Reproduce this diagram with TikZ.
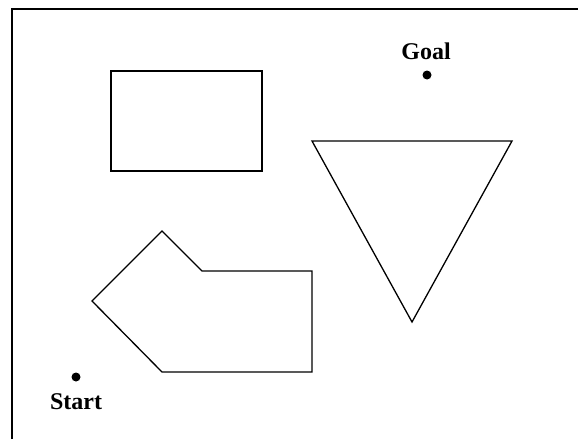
\documentclass[tikz,border=0pt]{standalone}
\usepackage{fontspec}
\setmainfont{Liberation Serif}
\begin{document}
\begin{tikzpicture}[x=1pt,y=-1pt,
  obstacle/.style={draw=black,line width=1.3pt,line join=miter},
  framebar/.style={draw=black,line width=2.4pt},
  point/.style={circle,fill=black,inner sep=0pt,minimum size=9pt},
  lbl/.style={font=\bfseries\fontsize{24}{26}\selectfont,inner sep=0pt}]
\useasboundingbox (0,0) rectangle (578,439);
% frame
\coordinate (fbl) at (12,439);
\coordinate (ftl) at (12,9);
\coordinate (ftr) at (578,9);
\draw[framebar] (fbl) -- (ftl) -- (ftr);
% rectangle obstacle
\draw[obstacle] (111,71) rectangle (262,171);
% triangle obstacle
\coordinate (t1) at (312,141);
\coordinate (t2) at (512,141);
\coordinate (t3) at (412,322);
\draw[obstacle] (t1) -- (t2) -- (t3) -- cycle;
% polygon obstacle
\coordinate (p1) at (162,231);
\coordinate (p2) at (202,271);
\coordinate (p3) at (312,271);
\coordinate (p4) at (312,372);
\coordinate (p5) at (162,372);
\coordinate (p6) at (92,301);
\draw[obstacle] (p1) -- (p2) -- (p3) -- (p4) -- (p5) -- (p6) -- cycle;
% goal and start
\node[point] (goal) at (427,75) {};
\node[lbl] (goallbl) at (426,51) {Goal};
\node[point] (start) at (76,377) {};
\node[lbl] (startlbl) at (76,402) {Start};
\end{tikzpicture}
\end{document}
